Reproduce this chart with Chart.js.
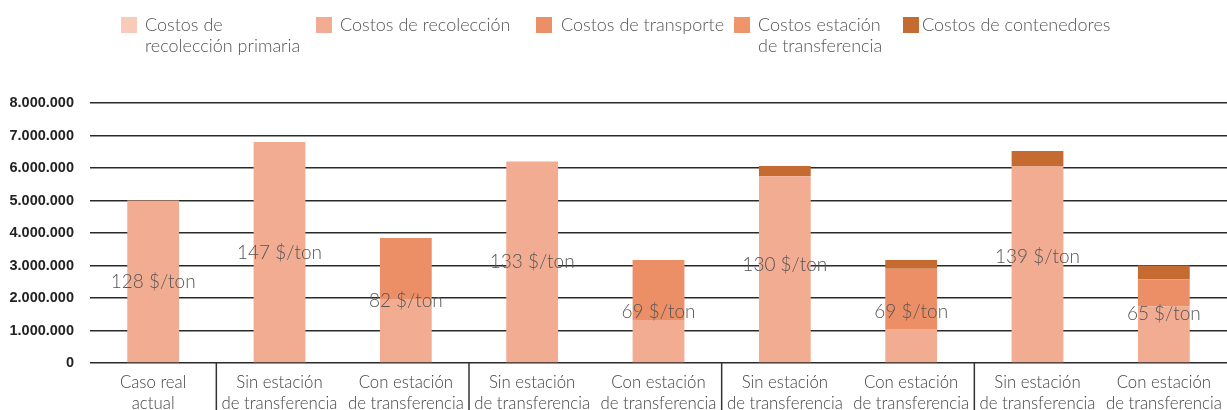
<!DOCTYPE html>
<html>
<head>
<meta charset="utf-8">
<script src="https://cdn.jsdelivr.net/npm/chart.js@4.4.1/dist/chart.umd.min.js"></script>
<style>
  html, body { margin: 0; padding: 0; background: #fff; }
  #wrap { position: relative; width: 1227px; height: 410px; overflow: hidden; }
  canvas { position: absolute; left: 0; top: 0; }
  .lg { position: absolute; top: 14px; font-family: Lato, "Open Sans", sans-serif; font-weight: 300; font-size: 18px; line-height: 21px; color: #555; white-space: nowrap; }
  .sw { position: absolute; top: 17px; width: 16px; height: 16px; }
</style>
</head>
<body>
<div id="wrap">
  <canvas id="c" width="1227" height="410"></canvas>
  <div id="legend"></div>
</div>
<script>
// ---- data ----
const categories = [
  ['Caso real', 'actual'],
  ['Sin estación', 'de transferencia'],
  ['Con estación', 'de transferencia'],
  ['Sin estación', 'de transferencia'],
  ['Con estación', 'de transferencia'],
  ['Sin estación', 'de transferencia'],
  ['Con estación', 'de transferencia'],
  ['Sin estación', 'de transferencia'],
  ['Con estación', 'de transferencia']
];
const seriesNames = [
  'Costos de recolección primaria',
  'Costos de recolección',
  'Costos de transporte',
  'Costos estación de transferencia',
  'Costos de contenedores'
];
const legendLines = [
  ['Costos de', 'recolección primaria'],
  ['Costos de recolección'],
  ['Costos de transporte'],
  ['Costos estación', 'de transferencia'],
  ['Costos de contenedores']
];
const recoleccionPrimaria = [0, 0, 0, 0, 0, 0, 0, 0, 0];
const recoleccion        = [5000000, 6800000, 1950000, 6200000, 1320000, 5750000, 1050000, 6050000, 1740000];
const transporte         = [0, 0, 1900000, 0, 1850000, 0, 1850000, 0, 840000];
const estacion           = [0, 0, 0, 0, 0, 0, 0, 0, 0];
const contenedores       = [0, 0, 0, 0, 0, 310000, 270000, 470000, 420000];
const costoPorTon        = [128, 147, 82, 133, 69, 130, 69, 139, 65];
const groupStarts        = [1, 3, 5, 7];
const yTicks             = [0, 1000000, 2000000, 3000000, 4000000, 5000000, 6000000, 7000000, 8000000];

const colors = ['#F7CBB8', '#F2AC92', '#EC8F67', '#F0956B', '#C56B32'];
const legendX = [121, 316, 536, 734, 903];
const legendTextX = [145, 340, 561, 758, 922];

// ---- HTML legend ----
const lg = document.getElementById('legend');
seriesNames.forEach((name, i) => {
  const sw = document.createElement('div');
  sw.className = 'sw';
  sw.style.left = legendX[i] + 'px';
  sw.style.background = colors[i];
  lg.appendChild(sw);
  const t = document.createElement('div');
  t.className = 'lg';
  t.style.left = legendTextX[i] + 'px';
  t.innerHTML = legendLines[i].join('<br>');
  lg.appendChild(t);
});

function fmt(v) {
  return String(v).replace(/\B(?=(\d{3})+(?!\d))/g, '.');
}

const valueLabels = {
  id: 'valueLabels',
  afterDatasetsDraw(chart) {
    const ctx = chart.ctx;
    const y = chart.scales.y, x = chart.scales.x;
    ctx.save();
    ctx.font = '300 19px Lato, "Open Sans", sans-serif';
    ctx.fillStyle = '#555';
    ctx.textAlign = 'center';
    ctx.textBaseline = 'middle';
    costoPorTon.forEach((c, i) => {
      const total = recoleccionPrimaria[i] + recoleccion[i] + transporte[i] + estacion[i] + contenedores[i];
      const px = x.getPixelForValue(i);
      const py = (y.getPixelForValue(total) + y.getPixelForValue(0)) / 2;
      ctx.fillText(c + ' $/ton', px, py);
    });
    ctx.restore();
  }
};

const separators = {
  id: 'separators',
  afterDraw(chart) {
    const ctx = chart.ctx;
    const x = chart.scales.x;
    ctx.save();
    ctx.strokeStyle = '#333';
    ctx.lineWidth = 1.5;
    groupStarts.forEach(g => {
      const px = (x.getPixelForValue(g - 1) + x.getPixelForValue(g)) / 2;
      ctx.beginPath();
      ctx.moveTo(px, chart.chartArea.bottom);
      ctx.lineTo(px, chart.height);
      ctx.stroke();
    });
    ctx.restore();
  }
};

const seriesData = [recoleccionPrimaria, recoleccion, transporte, estacion, contenedores];

new Chart(document.getElementById('c'), {
  type: 'bar',
  data: {
    labels: categories,
    datasets: seriesNames.map((n, i) => ({
      label: n,
      data: seriesData[i],
      backgroundColor: colors[i],
      borderWidth: 0,
      categoryPercentage: 1,
      barPercentage: 0.41
    }))
  },
  options: {
    responsive: false,
    animation: false,
    layout: { padding: { top: 103, right: 0, left: 0, bottom: 0 } },
    plugins: { legend: { display: false }, tooltip: { enabled: false } },
    scales: {
      x: {
        stacked: true,
        grid: { display: false, drawTicks: false },
        border: { display: false },
        ticks: {
          color: '#444',
          font: { family: 'Lato, "Open Sans", sans-serif', size: 16.8, weight: 300, lineHeight: 1.2 },
          padding: 10,
          maxRotation: 0,
          autoSkip: false
        },
        afterFit(s) { s.height = 47; s.paddingLeft = 0; s.paddingRight = 0; }
      },
      y: {
        stacked: true,
        min: 0,
        max: 8000000,
        afterBuildTicks(s) { s.ticks = yTicks.map(v => ({ value: v })); },
        grid: { color: '#2a2a2a', lineWidth: 1.5, drawTicks: false },
        border: { display: false },
        ticks: {
          color: '#222',
          font: { family: '"Liberation Sans Narrow", "Liberation Sans", sans-serif', size: 14.5, weight: 'bold' },
          padding: 16,
          callback: v => fmt(v)
        },
        afterFit(s) { s.width = 90; }
      }
    }
  },
  plugins: [valueLabels, separators]
});
</script>
</body>
</html>
